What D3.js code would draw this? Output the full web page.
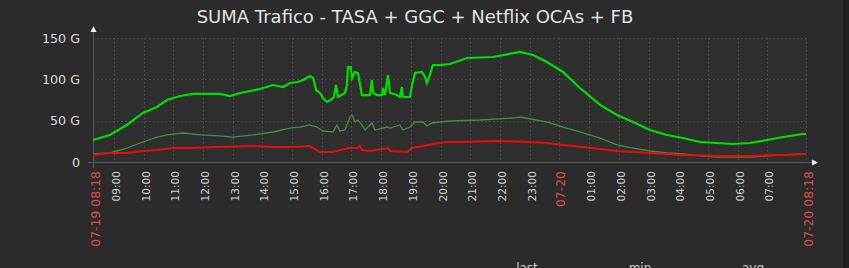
<!DOCTYPE html>
<html><head><meta charset="utf-8">
<script src="https://cdn.jsdelivr.net/npm/d3@7"></script>
<style>
html,body{margin:0;padding:0;background:#2b2b2b;overflow:hidden}
svg{display:block}
text{font-family:"DejaVu Sans",sans-serif}
</style></head><body>
<svg id="c" width="849" height="268"></svg>
<script>
// ---- data (time in hours of day 07-19, continuing past 24 into 07-20; values in G) ----
const title = "SUMA Trafico - TASA + GGC + Netflix OCAs + FB";
const yTicks = [0, 50, 100, 150];
const yTickLabels = ["0", "50 G", "100 G", "150 G"];
const tickHours = [9,10,11,12,13,14,15,16,17,18,19,20,21,22,23,24,25,26,27,28,29,30,31];
const tickLabels = ["09:00","10:00","11:00","12:00","13:00","14:00","15:00","16:00","17:00","18:00","19:00","20:00","21:00","22:00","23:00","07-20","01:00","02:00","03:00","04:00","05:00","06:00","07:00"];
const startLabel = "07-19 08:18";
const endLabel = "07-20 08:18";
const legendHeads = ["last", "min", "avg"];

const seriesGreen = [
[8.30,26.6],[8.87,32.7],[9.44,44.8],[9.98,59.3],[10.45,66.5],[10.79,75.0],[11.23,79.8],[11.67,82.3],
[12.57,82.3],[12.91,79.8],[13.25,83.5],[13.92,88.3],[14.36,93.1],[14.70,90.7],[14.93,95.6],[15.20,96.8],
[15.37,99.2],[15.60,104.0],[15.71,101.6],[15.81,87.1],[15.94,83.5],[16.04,77.4],[16.18,72.6],[16.35,76.2],
[16.41,78.6],[16.48,93.1],[16.55,78.6],[16.61,79.8],[16.78,83.5],[16.85,93.1],[16.88,114.9],[16.98,114.9],
[17.02,101.6],[17.12,108.9],[17.22,107.7],[17.29,93.1],[17.35,81.0],[17.62,81.0],[17.69,99.2],[17.73,83.5],
[17.86,81.0],[18.03,81.0],[18.06,89.5],[18.13,81.0],[18.23,105.2],[18.30,83.5],[18.53,81.0],[18.63,78.6],
[18.70,90.7],[18.73,78.6],[18.97,78.6],[19.04,93.1],[19.14,107.7],[19.37,108.9],[19.48,102.8],[19.54,95.6],
[19.64,105.2],[19.74,117.3],[19.98,117.3],[20.32,118.5],[20.89,125.8],[21.76,127.0],[22.67,133.1],[23.11,129.4],
[23.58,121.0],[24.12,108.9],[24.69,89.5],[25.37,69.0],[25.94,56.9],[26.48,48.4],[27.05,38.7],[27.62,32.7],
[28.16,29.0],[28.73,24.2],[29.30,23.0],[29.84,21.8],[30.42,23.0],[30.99,26.6],[31.53,30.2],[32.20,33.9],[32.30,33.9]
];
const seriesDark = [
[8.30,9.7],[8.87,10.9],[9.44,16.9],[9.98,24.2],[10.45,30.2],[10.79,32.7],[11.33,35.1],[11.90,32.7],
[12.57,31.5],[13.01,30.2],[13.69,32.7],[14.36,36.3],[14.93,41.1],[15.27,42.3],[15.60,44.8],[15.84,42.3],
[16.04,37.5],[16.38,36.3],[16.51,44.8],[16.61,37.5],[16.78,38.7],[16.95,54.4],[17.02,56.9],[17.12,48.4],
[17.22,50.8],[17.35,44.8],[17.46,38.7],[17.69,47.2],[17.79,38.7],[18.20,42.3],[18.30,41.1],[18.63,44.8],
[18.73,38.7],[18.97,42.3],[19.14,48.4],[19.41,48.4],[19.54,43.5],[19.71,47.2],[19.98,48.4],[20.32,49.6],
[21.33,50.8],[22.44,53.2],[22.67,54.4],[23.58,48.4],[24.12,42.3],[24.69,36.3],[25.37,29.0],[25.94,20.6],
[26.48,16.9],[27.05,13.3],[27.62,10.9],[28.16,9.7],[28.73,7.3],[29.30,6.0],[29.84,6.0],[30.42,6.0],
[30.99,7.3],[31.53,8.5],[32.20,9.7],[32.30,9.7]
];
const seriesRed = [
[8.30,8.5],[8.87,10.9],[9.44,10.9],[9.98,13.3],[10.45,14.5],[10.99,16.9],[11.67,16.9],[12.47,18.1],
[13.69,19.4],[14.36,18.1],[15.03,18.1],[15.60,19.4],[15.71,16.9],[15.94,12.1],[16.38,12.1],[16.88,16.9],
[17.19,16.9],[17.29,19.4],[17.35,14.5],[17.62,13.3],[18.23,16.9],[18.30,13.3],[18.87,12.1],[19.04,16.9],
[19.41,19.4],[19.74,21.8],[20.22,24.2],[20.75,24.2],[21.90,25.4],[23.01,24.2],[23.58,23.0],[24.12,20.6],
[24.79,18.1],[25.94,13.3],[27.05,10.9],[28.16,8.5],[29.30,7.3],[30.42,7.3],[31.53,8.5],[32.30,9.7]
];

// ---- drawing ----
const svg = d3.select("#c");
const L = 93, R = 806, T = 38, B = 162;
const x = d3.scaleLinear().domain([8.3, 32.3]).range([L, R]);
const y = d3.scaleLinear().domain([0, 150]).range([B, T]);

svg.append("rect").attr("x",843).attr("y",0).attr("width",6).attr("height",268).attr("fill","#1f1f1f");
svg.append("rect").attr("x",L).attr("y",T).attr("width",R-L).attr("height",B-T).attr("fill","#2f2f2f");

// title
svg.append("text").attr("x",415).attr("y",23).attr("text-anchor","middle")
  .attr("font-size","18px").attr("fill","#e2e2e2").text(title);

// grid
const grid = svg.append("g").attr("stroke","#505050").attr("stroke-width",1).attr("stroke-dasharray","1.5,2.5");
grid.selectAll("line.h").data(yTicks.filter(d=>d>0)).join("line")
  .attr("x1",L).attr("x2",R).attr("y1",d=>Math.round(y(d))+0.5).attr("y2",d=>Math.round(y(d))+0.5);
grid.selectAll("line.v").data(tickHours.concat([32.3])).join("line")
  .attr("x1",d=>Math.round(x(d))+0.5).attr("x2",d=>Math.round(x(d))+0.5).attr("y1",T).attr("y2",B);

// y labels via axis
const yAxis = d3.axisLeft(y).tickValues(yTicks).tickFormat((d,i)=>yTickLabels[i]).tickSize(0).tickPadding(0);
const gy = svg.append("g").attr("transform",`translate(${L-13},0)`).call(yAxis);
gy.select(".domain").remove();
gy.selectAll("text").attr("font-size","12.7px").attr("fill","#dedede").attr("font-family","DejaVu Sans");

// x labels
const gx = svg.append("g");
gx.selectAll("text.t").data(tickHours).join("text")
  .attr("transform",(d)=>`translate(${x(d)+6},${B+9}) rotate(-90)`)
  .attr("text-anchor","end").attr("font-size","10.6px")
  .attr("fill",(d,i)=>tickLabels[i]==="07-20"?"#dc4c4c":"#cfcfcf")
  .attr("font-size",(d,i)=>tickLabels[i]==="07-20"?"12.4px":"10.6px")
  .text((d,i)=>tickLabels[i]);
[[8.3,startLabel],[32.3,endLabel]].forEach(([h,lab])=>{
  gx.append("text").attr("transform",`translate(${x(h)+7},${B+9}) rotate(-90)`)
    .attr("text-anchor","end").attr("font-size","12.4px").attr("fill","#dc4c4c").text(lab);
});

// axes lines + arrows
svg.append("line").attr("x1",L+0.5).attr("x2",L+0.5).attr("y1",32).attr("y2",B+6).attr("stroke","#5a5a5a");
svg.append("line").attr("x1",L-5).attr("x2",812).attr("y1",B+0.5).attr("y2",B+0.5).attr("stroke","#5a5a5a");
svg.append("path").attr("d",`M${L+0.5},26 L${L-2.5},32 L${L+3.5},32 Z`).attr("fill","#f0f0f0");
svg.append("path").attr("d",`M818,${B+0.5} L812,${B-2.5} L812,${B+3.5} Z`).attr("fill","#f0f0f0");

// lines
const line = d3.line().x(d=>x(d[0])).y(d=>y(d[1]));
svg.append("path").datum(seriesDark).attr("d",line).attr("fill","none").attr("stroke","#3f8f3f").attr("stroke-width",1.3);
svg.append("path").datum(seriesRed).attr("d",line).attr("fill","none").attr("stroke","#ee0a0a").attr("stroke-width",2);
svg.append("path").datum(seriesGreen).attr("d",line).attr("fill","none").attr("stroke","#00e000").attr("stroke-width",2.2);

// legend column heads (cut off at bottom)
const legX = [527, 640, 753];
svg.selectAll("text.leg").data(legendHeads).join("text")
  .attr("x",(d,i)=>legX[i]).attr("y",272).attr("text-anchor","middle")
  .attr("font-size","12px").attr("fill","#cccccc").text(d=>d);
</script>
</body></html>
